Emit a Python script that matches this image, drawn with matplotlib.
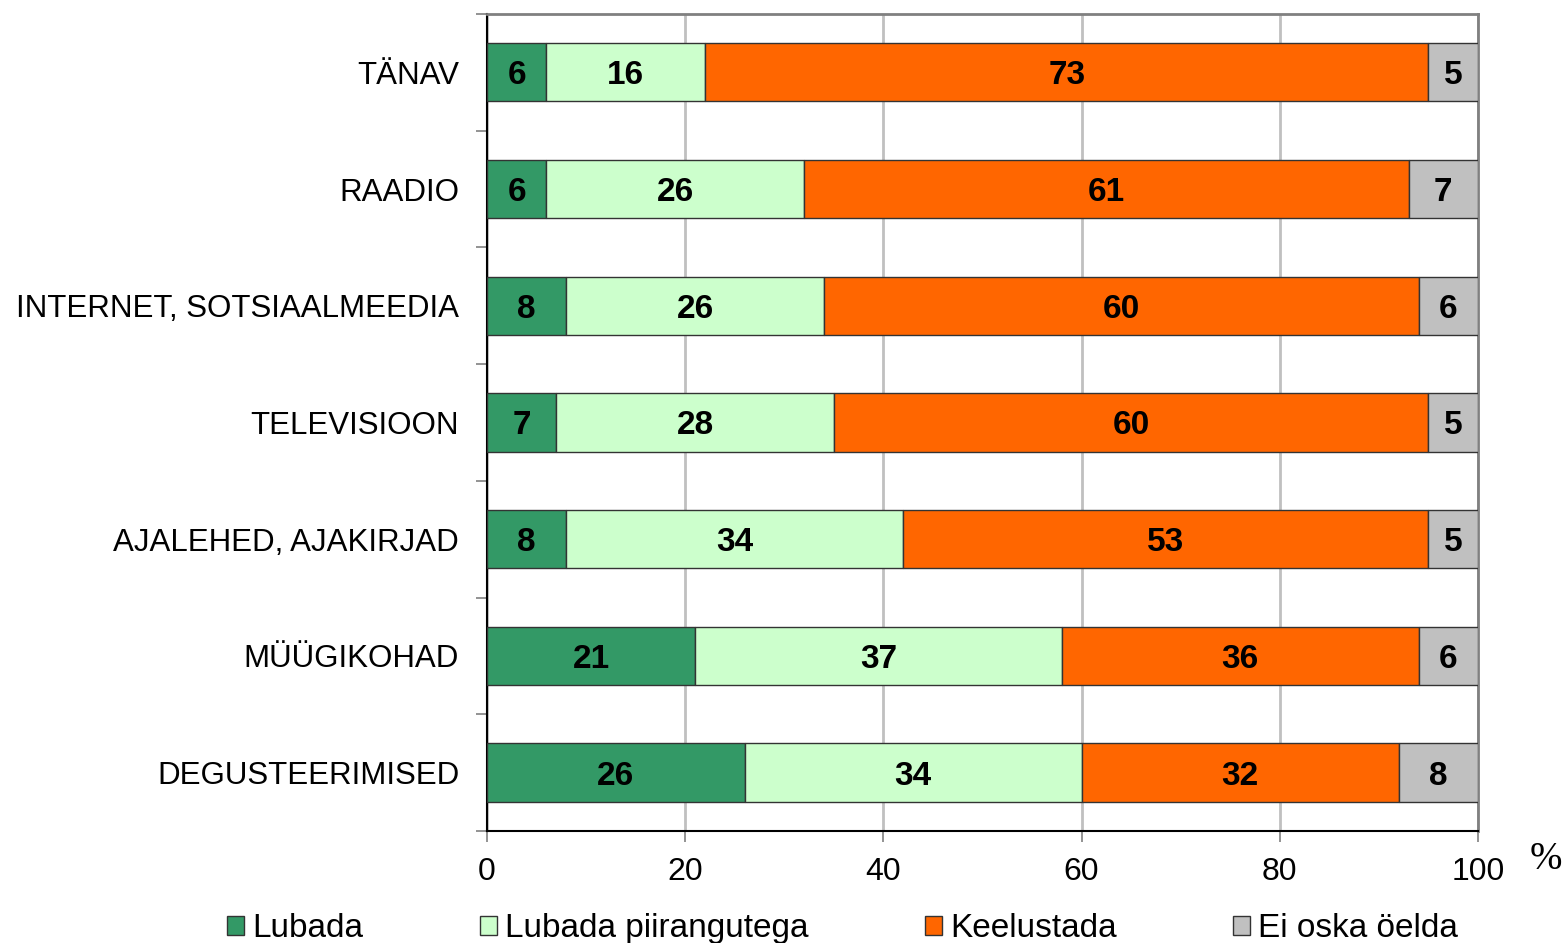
import matplotlib.pyplot as plt
import numpy as np
from matplotlib.patches import Patch

categories = ["TÄNAV", "RAADIO", "INTERNET, SOTSIAALMEEDIA", "TELEVISIOON",
              "AJALEHED, AJAKIRJAD", "MÜÜGIKOHAD", "DEGUSTEERIMISED"]
lubada = [6, 6, 8, 7, 8, 21, 26]
piirangutega = [16, 26, 26, 28, 34, 37, 34]
keelustada = [73, 61, 60, 60, 53, 36, 32]
ei_oska = [5, 7, 6, 5, 5, 6, 8]

series = [lubada, piirangutega, keelustada, ei_oska]
names = ["Lubada", "Lubada piirangutega", "Keelustada", "Ei oska öelda"]
colors = ["#339966", "#CCFFCC", "#FF6600", "#C0C0C0"]

plt.rcParams['font.family'] = ['Liberation Sans', 'DejaVu Sans']

fig = plt.figure(figsize=(15.68, 9.43), dpi=100)
ax = fig.add_axes([0.3106, 0.1188, 0.6320, 0.8664])

y = np.arange(len(categories))
left = np.zeros(len(categories))
for vals, name, col in zip(series, names, colors):
    vals = np.array(vals, dtype=float)
    ax.barh(y, vals, left=left, height=0.5, color=col, edgecolor="#333333",
            linewidth=1, label=name, zorder=3)
    for yi, l, v in zip(y, left, vals):
        ax.text(l + v / 2, yi + 0.03, str(int(v)), ha="center", va="center",
                fontsize=24, fontweight="bold", color="black", zorder=4)
    left += vals

ax.set_xlim(0, 100)
ax.set_ylim(len(categories) - 0.5, -0.5)
ax.set_xticks([0, 20, 40, 60, 80, 100])
ax.tick_params(axis="x", labelsize=23, length=8, width=1.2, color="#808080",
               direction="out", pad=11)
ax.set_yticks(y)
ax.set_yticklabels(categories)
ax.tick_params(axis="y", which="major", length=0, labelsize=22.5, pad=20)
ax.set_yticks(np.arange(-0.5, len(categories)), minor=True)
ax.tick_params(axis="y", which="minor", length=8, width=1.2, color="#808080",
               direction="out")

ax.grid(axis="x", color="#C0C0C0", linewidth=2, zorder=0)
for s in ["top", "right"]:
    ax.spines[s].set_color("#808080")
    ax.spines[s].set_linewidth(2)
ax.spines["left"].set_color("black")
ax.spines["left"].set_linewidth(1.5)
ax.spines["bottom"].set_color("black")
ax.spines["bottom"].set_linewidth(1.5)

fig.text(0.986, 0.089, "%", fontsize=28, family=["Liberation Serif"],
         ha="center", va="center")

handles = [Patch(facecolor=c, edgecolor="#333333", linewidth=1) for c in colors]
fig.legend(handles, names, loc="lower left", bbox_to_anchor=(0.145, -0.001),
           ncol=4, frameon=False, fontsize=24, handlelength=0.5,
           handleheight=0.5, handletextpad=0.25, columnspacing=3.5,
           borderaxespad=0, borderpad=0)

fig.savefig("out.png", dpi=100)
